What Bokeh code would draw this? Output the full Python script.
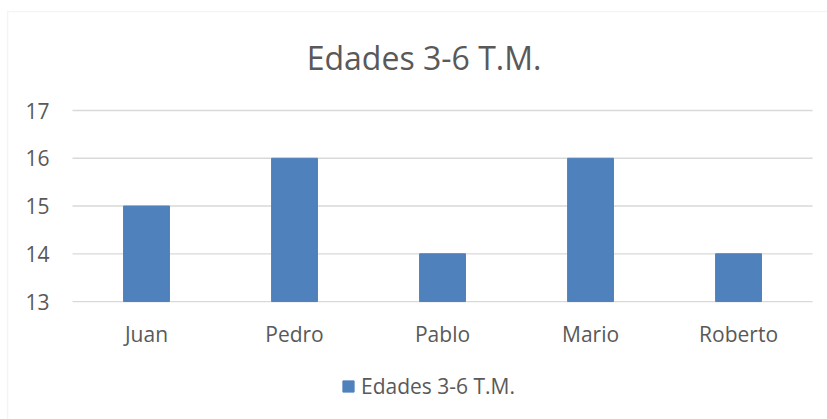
from bokeh.plotting import figure
from bokeh.models import (Range1d, Legend, LegendItem, FixedTicker, ColumnDataSource,
                          BoxAnnotation, Label)
from bokeh.embed import file_html
from bokeh.resources import INLINE

categories = ["Juan", "Pedro", "Pablo", "Mario", "Roberto"]
values = [15, 16, 14, 16, 14]
series_name = "Edades 3-6 T.M."
title_text = "Edades 3-6 T.M."
y_ticks = [13, 14, 15, 16, 17]

FONT = "Open Sans"
TXT = "#595959"
GRID = "#D9D9D9"
BAR = "#4F81BD"

n = len(categories)
xpos = [i + 0.5 for i in range(n)]
src = ColumnDataSource(dict(x=xpos, cat=categories, val=values))

p = figure(width=827, height=419, x_range=Range1d(-0.446, n + 0.101),
           y_range=Range1d(10.53, 19.094), output_backend="svg", toolbar_location=None)
p.min_border_left = 6
p.min_border_right = 0
p.min_border_top = 10
p.min_border_bottom = 0
p.outline_line_color = None
p.background_fill_color = "white"
p.border_fill_color = "white"
p.xgrid.grid_line_color = None
p.ygrid.grid_line_color = None

border = BoxAnnotation(left=7, right=3000, top=11, bottom=3000,
                       left_units="canvas", right_units="canvas",
                       top_units="canvas", bottom_units="canvas",
                       fill_alpha=0, line_color=GRID, line_width=1.5, level="underlay")
p.add_layout(border)

# gridlines across the plot area
p.segment(x0=[0] * len(y_ticks), x1=[n] * len(y_ticks), y0=y_ticks, y1=y_ticks,
          line_color=GRID, line_width=1.3)

r = p.vbar(x="x", top="val", bottom=min(y_ticks), width=0.31, source=src,
           fill_color=BAR, line_color=BAR)

p.xaxis.fixed_location = min(y_ticks)
p.yaxis.fixed_location = 0
p.xaxis.ticker = FixedTicker(ticks=xpos)
p.xaxis.major_label_overrides = {x: c for x, c in zip(xpos, categories)}
p.yaxis.ticker = FixedTicker(ticks=y_ticks)

for ax in (p.xaxis, p.yaxis):
    ax.axis_line_color = None
    ax.major_tick_line_color = None
    ax.minor_tick_line_color = None
    ax.major_tick_out = 0
    ax.major_tick_in = 0
    ax.major_label_text_font = FONT
    ax.major_label_text_font_size = "21px"
    ax.major_label_text_color = TXT
p.xaxis.major_label_standoff = 18
p.yaxis.major_label_standoff = 23

title = Label(x=2.375, y=18.1, text=title_text, text_align="center",
              text_baseline="alphabetic", text_font=FONT, text_font_size="32px",
              text_color=TXT)
p.add_layout(title)

legend = Legend(items=[LegendItem(label=series_name, renderers=[r])],
                orientation="horizontal", location=(335, 19),
                label_text_font=FONT, label_text_font_size="21px", label_text_color=TXT,
                glyph_width=14, glyph_height=14, label_standoff=6,
                border_line_color=None, background_fill_alpha=0,
                margin=0, padding=0, spacing=0)
p.add_layout(legend)

open("out.html", "w").write(file_html(p, INLINE))
